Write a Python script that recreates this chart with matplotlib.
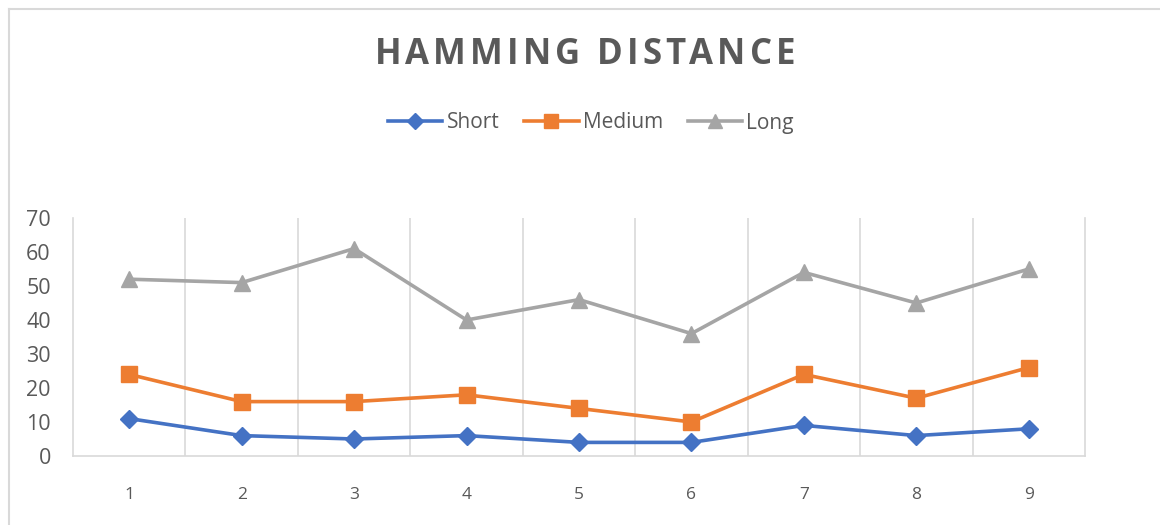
import matplotlib.pyplot as plt
from matplotlib.lines import Line2D

categories = [1, 2, 3, 4, 5, 6, 7, 8, 9]
short = [11, 6, 5, 6, 4, 4, 9, 6, 8]
medium = [24, 16, 16, 18, 14, 10, 24, 17, 26]
long_ = [52, 51, 61, 40, 46, 36, 54, 45, 55]
y_ticks = [0, 10, 20, 30, 40, 50, 60, 70]
title = "HAMMING DISTANCE"

colors = {"short": "#4472c4", "medium": "#ed7d31", "long": "#a5a5a5"}
text_col = "#595959"
grid_col = "#d9d9d9"

plt.rcParams["font.family"] = ["Open Sans", "DejaVu Sans"]

W, H = 1160, 525
fig = plt.figure(figsize=(W / 100, H / 100), dpi=100)
ax = fig.add_axes([73 / W, 69 / H, 1012 / W, 238 / H])

ax.plot(categories, short, color=colors["short"], lw=2.6, marker="D", ms=9, label="Short")
ax.plot(categories, medium, color=colors["medium"], lw=2.6, marker="s", ms=11, label="Medium")
ax.plot(categories, long_, color=colors["long"], lw=2.6, marker="^", ms=11, label="Long")

ax.set_xlim(0.5, 9.5)
ax.set_ylim(0, 70)
ax.set_yticks(y_ticks)
ax.set_xticks(categories)
ax.set_xticklabels([str(c) for c in categories])
for x in [c + 0.5 for c in categories[:-1]]:
    ax.axvline(x, color=grid_col, lw=1.2, zorder=0)

ax.spines["top"].set_visible(False)
for s in ["left", "right", "bottom"]:
    ax.spines[s].set_color(grid_col)
    ax.spines[s].set_linewidth(1.2)
ax.tick_params(axis="both", length=0, colors=text_col)
ax.tick_params(axis="x", pad=22, labelsize=12.5)
ax.tick_params(axis="y", pad=16, labelsize=15.5)

# title with letter spacing, placed character by character
renderer = fig.canvas.get_renderer()
tfont = dict(fontsize=25, fontweight="bold", color=text_col)
tracking = 4.0  # px between letters
widths = []
for ch in title:
    if ch == " ":
        t1 = fig.text(0, 0, "HH", **tfont)
        t2 = fig.text(0, 0, "H H", **tfont)
        w = t2.get_window_extent(renderer).width - t1.get_window_extent(renderer).width
        t1.remove(); t2.remove()
    else:
        t = fig.text(0, 0, ch, **tfont)
        w = t.get_window_extent(renderer).width
        t.remove()
    widths.append(w)
total = sum(widths) + tracking * (len(title) - 1)
x = 585 - total / 2
for ch, w in zip(title, widths):
    if ch != " ":
        fig.text(x / W, 1 - 55 / H, ch, ha="left", va="center", **tfont)
    x += w + tracking

handles = [
    Line2D([], [], color=colors["short"], lw=2.6, marker="D", ms=8),
    Line2D([], [], color=colors["medium"], lw=2.6, marker="s", ms=10),
    Line2D([], [], color=colors["long"], lw=2.6, marker="^", ms=10),
]
fig.legend(handles, ["Short", "Medium", "Long"], loc="center", bbox_to_anchor=(591 / W, 1 - 123 / H),
           ncol=3, frameon=False, fontsize=15, labelcolor=text_col,
           handlelength=2.6, handletextpad=0.2, columnspacing=1.2)

# chart frame (left and top edges visible)
fig.add_artist(Line2D([8.5 / W, 8.5 / W], [0, 1 - 8.5 / H], color=grid_col, lw=1.5,
                      transform=fig.transFigure))
fig.add_artist(Line2D([8.5 / W, 1], [1 - 8.5 / H, 1 - 8.5 / H], color=grid_col, lw=1.5,
                      transform=fig.transFigure))

fig.savefig("out.png", dpi=100)
